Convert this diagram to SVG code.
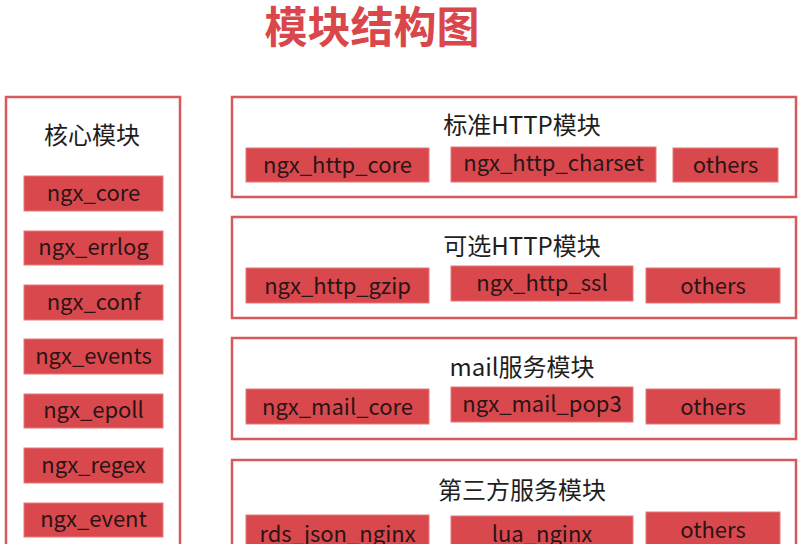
<svg xmlns="http://www.w3.org/2000/svg" width="804" height="553" viewBox="0 0 804 553">
<style>
.grp{fill:#ffffff;stroke:#d65a5c;stroke-width:2.5}
.mod{fill:#d9484d;stroke:#e6787a;stroke-width:1}
.mt{font-family:"Noto Sans CJK SC","Noto Sans",sans-serif;font-size:22px;fill:#2a1416;text-anchor:middle}
.gt{font-family:"Noto Sans CJK SC","Noto Sans",sans-serif;font-size:24px;fill:#1e1e1e;text-anchor:middle}
.title{font-family:"Noto Sans CJK SC",sans-serif;font-size:43px;font-weight:bold;fill:#d9474b;text-anchor:middle}
</style>
<defs>
<clipPath id="crop"><rect x="0" y="0" width="804" height="544"/></clipPath>
</defs>
<rect width="804" height="553" fill="#ffffff"/>
<text class="title" x="372" y="43">模块结构图</text>
<g clip-path="url(#crop)">
<g id="core">
<rect class="grp" x="6" y="97" width="174" height="470"/>
<text class="gt" x="92" y="144">核心模块</text>
<g id="ngx_core"><rect class="mod" x="24" y="176" width="139" height="35"/><text class="mt" x="93.5" y="201">ngx_core</text></g>
<g id="ngx_errlog"><rect class="mod" x="24" y="231" width="139" height="34"/><text class="mt" x="93.5" y="255">ngx_errlog</text></g>
<g id="ngx_conf"><rect class="mod" x="24" y="285" width="139" height="35"/><text class="mt" x="93.5" y="310">ngx_conf</text></g>
<g id="ngx_events"><rect class="mod" x="24" y="339" width="139" height="35"/><text class="mt" x="93.5" y="364">ngx_events</text></g>
<g id="ngx_epoll"><rect class="mod" x="24" y="394" width="139" height="34"/><text class="mt" x="93.5" y="418">ngx_epoll</text></g>
<g id="ngx_regex"><rect class="mod" x="24" y="448" width="139" height="35"/><text class="mt" x="93.5" y="473">ngx_regex</text></g>
<g id="ngx_event"><rect class="mod" x="24" y="503" width="139" height="34"/><text class="mt" x="93.5" y="527">ngx_event</text></g>
</g>
<g id="std_http">
<rect class="grp" x="232" y="97" width="564" height="100"/>
<text class="gt" x="522" y="134">标准HTTP模块</text>
<g id="ngx_http_core"><rect class="mod" x="246" y="148" width="183" height="34"/><text class="mt" x="337.5" y="173">ngx_http_core</text></g>
<g id="ngx_http_charset"><rect class="mod" x="451" y="147" width="205" height="35"/><text class="mt" x="553.5" y="171">ngx_http_charset</text></g>
<g id="std_others"><rect class="mod" x="673" y="148" width="105" height="34"/><text class="mt" x="725.5" y="173">others</text></g>
</g>
<g id="opt_http">
<rect class="grp" x="232" y="217" width="564" height="101"/>
<text class="gt" x="522" y="255">可选HTTP模块</text>
<g id="ngx_http_gzip"><rect class="mod" x="246" y="268" width="183" height="35"/><text class="mt" x="337.5" y="294">ngx_http_gzip</text></g>
<g id="ngx_http_ssl"><rect class="mod" x="451" y="266" width="182" height="35"/><text class="mt" x="542" y="291">ngx_http_ssl</text></g>
<g id="opt_others"><rect class="mod" x="646" y="268" width="134" height="35"/><text class="mt" x="713" y="294">others</text></g>
</g>
<g id="mail">
<rect class="grp" x="232" y="338" width="564" height="101"/>
<text class="gt" x="522" y="376">mail服务模块</text>
<g id="ngx_mail_core"><rect class="mod" x="246" y="389" width="183" height="35"/><text class="mt" x="337.5" y="415">ngx_mail_core</text></g>
<g id="ngx_mail_pop3"><rect class="mod" x="451" y="387" width="182" height="35"/><text class="mt" x="542" y="412">ngx_mail_pop3</text></g>
<g id="mail_others"><rect class="mod" x="646" y="389" width="134" height="35"/><text class="mt" x="713" y="415">others</text></g>
</g>
<g id="third">
<rect class="grp" x="232" y="460" width="564" height="110"/>
<text class="gt" x="522" y="499">第三方服务模块</text>
<g id="rds_json_nginx"><rect class="mod" x="246" y="515" width="183" height="35"/><text class="mt" x="337.5" y="542">rds_json_nginx</text></g>
<g id="lua_nginx"><rect class="mod" x="451" y="516" width="182" height="35"/><text class="mt" x="542" y="542">lua_nginx</text></g>
<g id="third_others"><rect class="mod" x="646" y="512" width="134" height="35"/><text class="mt" x="713" y="538">others</text></g>
</g>
</g>
<g id="connectors"/>
</svg>
